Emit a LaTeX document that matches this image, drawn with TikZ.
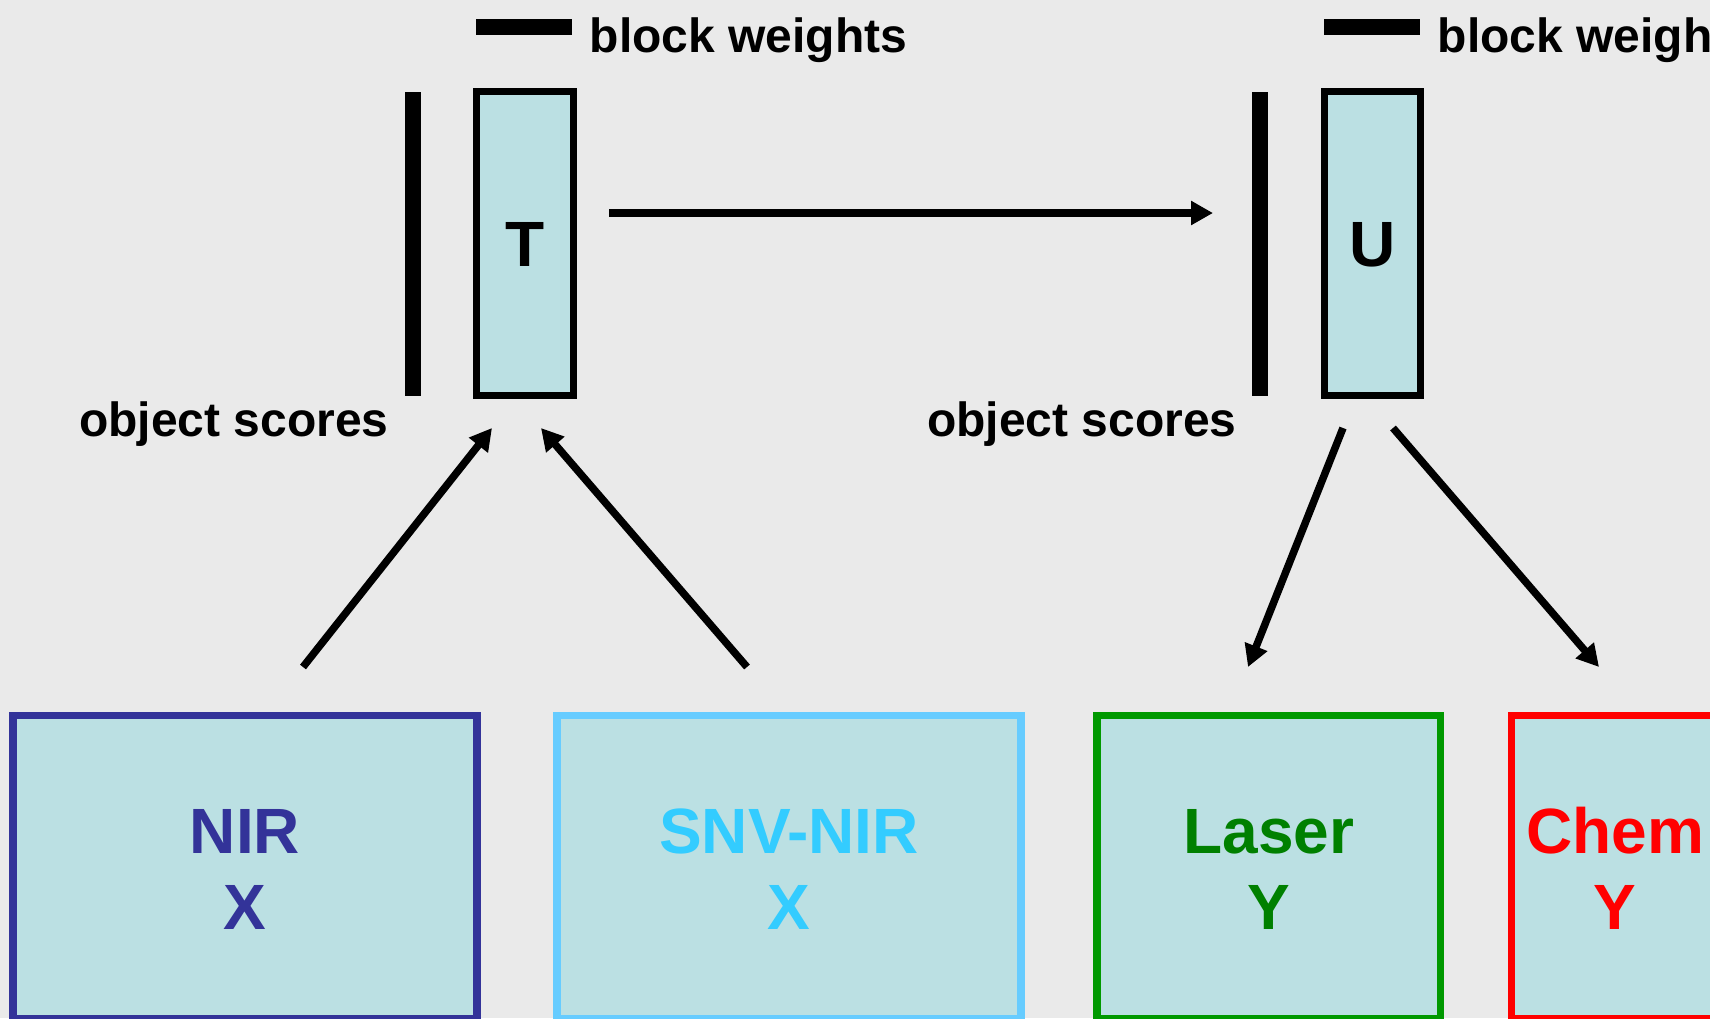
\documentclass[tikz,border=0pt]{standalone}
\usepackage{fontspec}
\setmainfont{Liberation Sans}
\usetikzlibrary{arrows.meta}

\definecolor{bg}{HTML}{EAEAEA}
\definecolor{cellfill}{HTML}{BBE0E3}
\definecolor{nirblue}{HTML}{333399}
\definecolor{snvedge}{HTML}{66CCFF}
\definecolor{snvtext}{HTML}{33CCFF}
\definecolor{laseredge}{HTML}{009900}
\definecolor{lasertext}{HTML}{008000}
\definecolor{chemred}{HTML}{FF0000}

\begin{document}
\begin{tikzpicture}[x=1pt,y=-1pt,
  scorebox/.style={draw=black, line width=7pt, fill=cellfill,
    minimum width=97pt, minimum height=304pt, inner sep=0pt,
    font=\fontsize{64}{76}\selectfont\bfseries,
    text height=46pt, text depth=0pt},
  datablock/.style={line width=7.5pt, fill=cellfill, inner sep=0pt,
    minimum height=303.5pt},
  blocktext/.style={anchor=base, inner sep=0pt,
    font=\fontsize{64}{76}\selectfont\bfseries},
  caption/.style={anchor=base west, inner sep=0pt,
    font=\fontsize{48}{58}\selectfont\bfseries},
  conn/.style={line width=7.5pt,
    -{Triangle[length=22pt,width=23pt]}}
]
\useasboundingbox (0,0) rectangle (1710,1018);
\fill[bg] (0,0) rectangle (1710,1018);
\clip (0,0) rectangle (1710,1018);

% score matrices with their weight bars and score bars
\node[scorebox] (T) at (525,243.5) {T};
\node[scorebox, minimum width=96pt] (U) at (1372.5,243.5) {U};

\fill (405,92) rectangle (421,396);
\fill (1252,92) rectangle (1268,396);
\fill (476,19) rectangle (572,35);
\fill (1324,19) rectangle (1420,35);

\node[caption] (bwT) at (589.5,52) {block weights};
\node[caption] (bwU) at (1437.5,52) {block weights};
\node[caption] (osT) at (79,436) {object scores};
\node[caption] (osU) at (927,436) {object scores};

% data blocks
\node[datablock, draw=nirblue, minimum width=464pt] (nir) at (245,867.25) {};
\node[datablock, draw=snvedge, minimum width=464pt] (snv) at (789,867.25) {};
\node[datablock, draw=laseredge, minimum width=343.5pt] (laser) at (1268.75,867.25) {};
\node[datablock, draw=chemred, minimum width=220pt] (chem) at (1621.5,867.25) {};

\node[blocktext, text=nirblue] (nirA) at (nir.center |- 0,853) {NIR};
\node[blocktext, text=nirblue] (nirB) at (nir.center |- 0,929) {X};
\node[blocktext, text=snvtext] (snvA) at (snv.center |- 0,853) {SNV-NIR};
\node[blocktext, text=snvtext] (snvB) at (snv.center |- 0,929) {X};
\node[blocktext, text=lasertext] (laserA) at (laser.center |- 0,853) {Laser};
\node[blocktext, text=lasertext] (laserB) at (laser.center |- 0,929) {Y};
\node[blocktext, text=chemred] (chemA) at (1615,853) {Chem};
\node[blocktext, text=chemred] (chemB) at (1615,929) {Y};

% connector end points
\coordinate (tOut) at (609,213);
\coordinate (uIn) at (1213,213);
\coordinate (nirOut) at (303,667);
\coordinate (tInA) at (492,428);
\coordinate (snvOut) at (747,667);
\coordinate (tInB) at (541,428);
\coordinate (uOutA) at (1343,428);
\coordinate (laserIn) at (1248,667);
\coordinate (uOutB) at (1393,428);
\coordinate (chemIn) at (1599,667);

\draw[conn] (tOut) -- (uIn);
\draw[conn] (nirOut) -- (tInA);
\draw[conn] (snvOut) -- (tInB);
\draw[conn] (uOutA) -- (laserIn);
\draw[conn] (uOutB) -- (chemIn);
\end{tikzpicture}
\end{document}
